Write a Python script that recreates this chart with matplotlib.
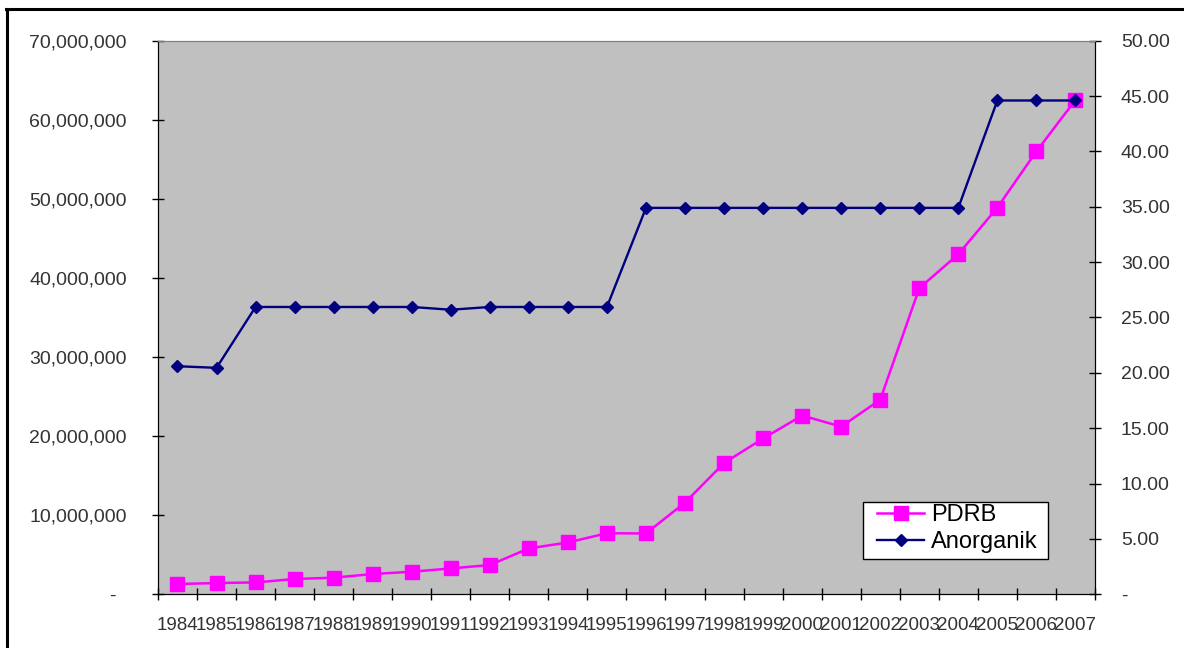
import matplotlib
matplotlib.use("Agg")
import matplotlib.pyplot as plt
from matplotlib.lines import Line2D
from matplotlib.patches import Rectangle
from matplotlib.ticker import FuncFormatter, MultipleLocator

plt.rcParams['font.family'] = ['Liberation Sans', 'DejaVu Sans']

years = [str(y) for y in range(1984, 2008)]

# PDRB (left axis)
pdrb = [1300000, 1420000, 1500000, 1930000, 2100000, 2560000, 2850000, 3270000,
        3700000, 5800000, 6550000, 7720000, 7690000, 11600000, 16600000, 19700000,
        22600000, 21200000, 24600000, 38700000, 43000000, 48900000, 56000000, 62500000]

# Anorganik (right axis)
anorganik = [20.60, 20.45, 25.95, 25.95, 25.95, 25.95, 25.95, 25.70,
             25.95, 25.95, 25.95, 25.95, 34.90, 34.90, 34.90, 34.90,
             34.90, 34.90, 34.90, 34.90, 34.90, 44.60, 44.60, 44.60]

label_color = '#333333'

fig = plt.figure(figsize=(11.84, 6.48), dpi=100)
ax = fig.add_axes([0.1334, 0.0829, 0.7914, 0.8543])
ax.set_facecolor('#c0c0c0')

x = list(range(len(years)))
ax.plot(x, pdrb, color='#ff00ff', lw=1.8, marker='s', ms=9.5,
        mec='#ff00ff', mfc='#ff00ff', label='PDRB')

ax2 = ax.twinx()
ax2.plot(x, anorganik, color='#000080', lw=1.7, marker='D', ms=6.2,
         mec='#000080', mfc='#000080', label='Anorganik')

ax.set_xlim(-0.5, len(years) - 0.5)
ax.set_ylim(0, 70000000)
ax2.set_ylim(0, 50)

# category boundaries get the tick marks, centres get the year labels
ax.set_xticks([i - 0.5 for i in range(len(years) + 1)])
ax.set_xticklabels([])
ax.set_xticks(x, minor=True)
ax.set_xticklabels(years, minor=True)
ax.tick_params(axis='x', which='major', direction='inout', length=8.6, width=1)
ax.tick_params(axis='x', which='minor', length=0, pad=16, labelsize=13.5,
               labelcolor=label_color)

ax.yaxis.set_major_locator(MultipleLocator(10000000))
ax.yaxis.set_major_formatter(FuncFormatter(
    lambda v, p: '-  ' if v == 0 else f'{v:,.0f}'))
ax.tick_params(axis='y', direction='inout', length=8.6, width=1, pad=18,
               labelsize=14, labelcolor=label_color)

ax2.yaxis.set_major_locator(MultipleLocator(5))
ax2.yaxis.set_major_formatter(FuncFormatter(
    lambda v, p: '-' if v == 0 else f'{v:.2f}'))
ax2.tick_params(axis='y', direction='inout', length=8.6, width=1, pad=14.4,
                labelsize=14, labelcolor=label_color)

for a in (ax, ax2):
    a.spines['top'].set_color('#808080')
    a.spines['left'].set_color('black')
    a.spines['right'].set_color('black')
    a.spines['bottom'].set_color('black')

# legend box drawn separately so the padding can differ by side
ax2.add_patch(Rectangle((0.7524, 0.0632), 0.1974, 0.1041, transform=ax2.transAxes,
                        facecolor='white', edgecolor='black', lw=1, zorder=4))
h1, l1 = ax.get_legend_handles_labels()
h2, l2 = ax2.get_legend_handles_labels()
leg = ax2.legend(h1 + h2, l1 + l2, loc='upper left', bbox_to_anchor=(0.7673, 0.1631),
                 fontsize=17, frameon=False, borderpad=0, labelspacing=0.23,
                 handlelength=2.0, handletextpad=0.3, borderaxespad=0)
leg.set_zorder(5)

# outer frame (left and top edges)
fig.add_artist(Line2D([6.7 / 1184, 6.7 / 1184], [0, 1 - 9 / 648],
                      transform=fig.transFigure, color='black', lw=2.2))
fig.add_artist(Line2D([5.5 / 1184, 1], [1 - 9 / 648, 1 - 9 / 648],
                      transform=fig.transFigure, color='black', lw=2.2))

fig.savefig('out.png', dpi=100)
